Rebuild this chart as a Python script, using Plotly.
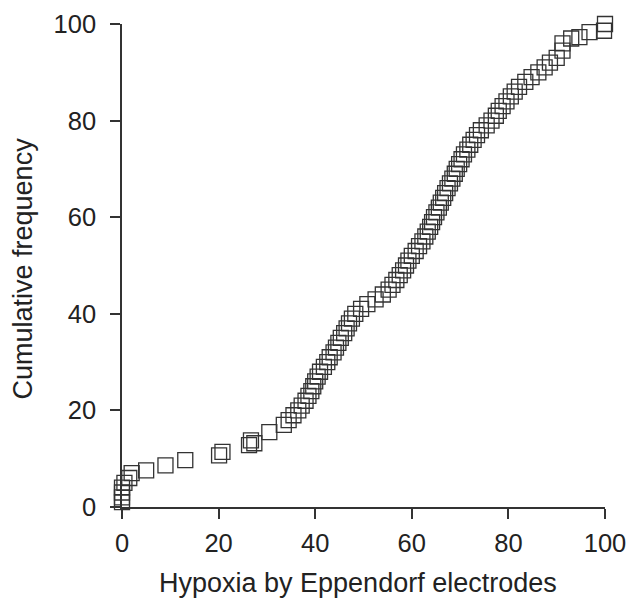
import plotly.graph_objects as go

# Hypoxia by Eppendorf electrodes (x) vs cumulative frequency (y)
hypoxia = [
    0.0, 0.0, 0.0, 0.0, 0.5, 1.5, 2.0, 5.0, 9.0, 13.1, 20.1, 20.8, 26.3, 27.4, 26.7, 30.5,
    33.5, 34.5, 35.5, 36.5, 37.2, 38.0, 38.6, 39.2, 39.6, 40.0, 40.5, 41.0, 41.8, 42.5,
    43.0, 43.8, 44.3, 44.8, 45.3, 46.0, 46.5, 47.0, 47.6, 48.3, 49.5, 50.8, 52.5, 54.0,
    55.2, 56.0, 56.8, 57.5, 58.2, 58.8, 59.3, 60.0, 60.8, 61.5, 62.2, 62.8, 63.3, 63.8,
    64.2, 64.6, 65.1, 65.6, 66.0, 66.5, 66.9, 67.4, 67.9, 68.4, 68.9, 69.3, 69.8, 70.3,
    70.8, 71.5, 72.1, 72.8, 73.5, 74.3, 75.5, 76.5, 77.4, 78.0, 78.8, 79.6, 80.5, 81.3,
    82.2, 83.5, 84.8, 86.2, 87.5, 88.6, 90.0, 91.2, 91.2, 93.0, 94.7, 96.8, 99.8, 100.0,
]
cumulative_frequency = [
    1.0, 2.0, 3.0, 4.0, 5.0, 6.0, 7.0, 7.6, 8.6, 9.7, 10.7, 11.4, 12.8, 13.2, 13.8, 15.5,
    17, 18, 19, 20, 21, 22, 23, 24, 25, 26, 27, 28, 29, 30,
    31, 32, 33, 34, 35, 36, 37, 38, 39, 40, 41, 42, 43, 44,
    45, 46, 47, 48, 49, 50, 51, 52, 53, 54, 55, 56, 57, 58,
    59, 60, 61, 62, 63, 64, 65, 66, 67, 68, 69, 70, 71, 72,
    73, 74, 75, 76, 77, 78, 79, 80, 81, 82, 83, 84, 85, 86,
    87, 88, 89, 90, 91, 92, 93, 94.5, 96, 97, 97.3, 98.3, 98.6, 100,
]
tick_values = [0, 20, 40, 60, 80, 100]
tick_labels = ["0", "20", "40", "60", "80", "100"]
x_title = "Hypoxia by Eppendorf electrodes"
y_title = "Cumulative frequency"

FONT = "Liberation Sans, Arial, Helvetica, sans-serif"
TXT = "#222222"
LINE = "#333333"

fig = go.Figure()
fig.add_trace(go.Scatter(
    x=hypoxia, y=cumulative_frequency, mode="markers",
    marker=dict(symbol="square-open", size=15, color=LINE, line=dict(width=1.3, color=LINE)),
    cliponaxis=False, showlegend=False,
))

axis_common = dict(
    range=[0, 100], showgrid=False, zeroline=False, showline=True, automargin=False,
    linecolor=LINE, linewidth=1.5, ticks="outside", ticklen=10, tickwidth=1.5,
    tickcolor=LINE, tickvals=tick_values, ticktext=tick_labels,
    tickfont=dict(family=FONT, size=25.5, color=TXT),
)

title_font = dict(family=FONT, size=27, color=TXT)

# the page body keeps its default 8px margin; the figure is offset by it
fig.update_layout(
    width=630, height=593,
    margin=dict(l=114, r=33, t=16, b=94),
    paper_bgcolor="white", plot_bgcolor="white",
    xaxis=dict(**axis_common, ticklabelstandoff=3),
    yaxis=dict(**axis_common, ticklabelstandoff=9),
    annotations=[
        dict(text=x_title, xref="paper", yref="paper", x=0.5, y=0,
             xanchor="center", yanchor="middle", yshift=-76, xshift=-6,
             showarrow=False, font=title_font),
        dict(text=y_title, xref="paper", yref="paper", x=0, y=0.5,
             xanchor="center", yanchor="middle", xshift=-100, yshift=-3, textangle=-90,
             showarrow=False, font=title_font),
    ],
)

fig.write_html("out.html")
